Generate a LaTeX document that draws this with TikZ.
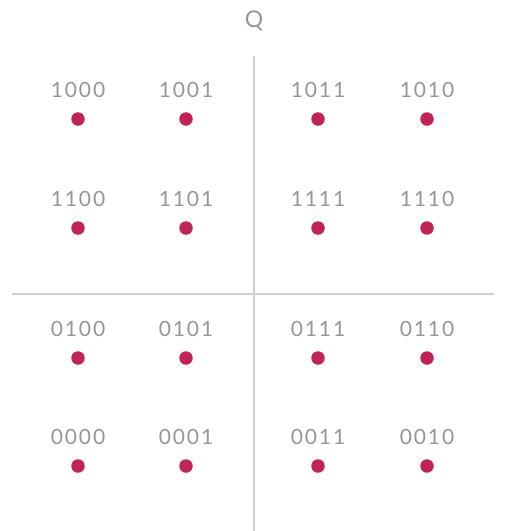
\documentclass[tikz,border=0pt]{standalone}
\usepackage{fontspec}
\setmainfont{Lato}
\newfontfamily\bitsfont{Lato}[LetterSpace=9]
\usetikzlibrary{positioning}
\definecolor{dotred}{RGB}{192, 36, 84}
\definecolor{axisgray}{RGB}{208, 208, 208}
\definecolor{labelgray}{RGB}{150, 150, 150}

\begin{document}
\begin{tikzpicture}[
    x=1pt, y=-1pt,
    pt/.style={circle, fill=dotred, draw=none, minimum size=13.5pt, inner sep=0pt},
    bits/.style={text=labelgray, font=\bitsfont\fontsize{21}{23}\selectfont, inner sep=0pt},
    axis/.style={draw=axisgray, line width=1.3pt},
]
\useasboundingbox (0,0) rectangle (509,531);

% axes
\coordinate (qtop) at (254,56);
\coordinate (qbot) at (254,531);
\coordinate (ileft) at (12,294);
\coordinate (iright) at (494,294);
\draw[axis] (qtop) -- (qbot);
\draw[axis] (ileft) -- (iright);
\node[bits, font=\fontsize{23}{25}\selectfont] (qlab) at (254,21) {Q};

% row 1
\node[pt] (p1000) at (78,119) {};
\node[pt] (p1001) at (186,119) {};
\node[pt] (p1011) at (318,119) {};
\node[pt] (p1010) at (427,119) {};
\node[bits] (t1000) at (78,90) {1000};
\node[bits] (t1001) at (186,90) {1001};
\node[bits] (t1011) at (318,90) {1011};
\node[bits] (t1010) at (427,90) {1010};

% row 2
\node[pt] (p1100) at (78,228) {};
\node[pt] (p1101) at (186,228) {};
\node[pt] (p1111) at (318,228) {};
\node[pt] (p1110) at (427,228) {};
\node[bits] (t1100) at (78,199) {1100};
\node[bits] (t1101) at (186,199) {1101};
\node[bits] (t1111) at (318,199) {1111};
\node[bits] (t1110) at (427,199) {1110};

% row 3
\node[pt] (p0100) at (78,358) {};
\node[pt] (p0101) at (186,358) {};
\node[pt] (p0111) at (318,358) {};
\node[pt] (p0110) at (427,358) {};
\node[bits] (t0100) at (78,329) {0100};
\node[bits] (t0101) at (186,329) {0101};
\node[bits] (t0111) at (318,329) {0111};
\node[bits] (t0110) at (427,329) {0110};

% row 4
\node[pt] (p0000) at (78,466) {};
\node[pt] (p0001) at (186,466) {};
\node[pt] (p0011) at (318,466) {};
\node[pt] (p0010) at (427,466) {};
\node[bits] (t0000) at (78,437) {0000};
\node[bits] (t0001) at (186,437) {0001};
\node[bits] (t0011) at (318,437) {0011};
\node[bits] (t0010) at (427,437) {0010};

\end{tikzpicture}
\end{document}
